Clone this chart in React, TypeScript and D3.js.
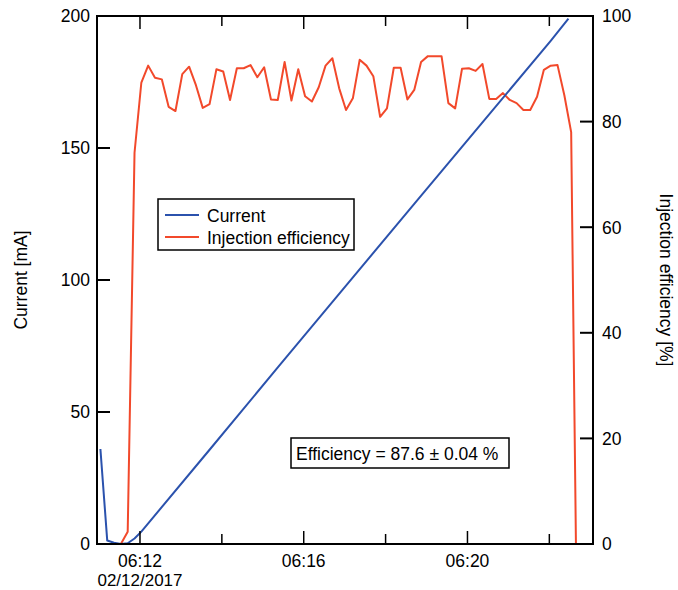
import React from "react";
import * as d3 from "d3";

// ---------- data ----------
const effTimes: string[] = [
  "06:11:32", "06:11:42", "06:11:52",
  "06:12:02", "06:12:12", "06:12:22", "06:12:32", "06:12:42", "06:12:52",
  "06:13:02", "06:13:12", "06:13:22", "06:13:32", "06:13:42", "06:13:52",
  "06:14:02", "06:14:12", "06:14:22", "06:14:32", "06:14:42", "06:14:52",
  "06:15:02", "06:15:12", "06:15:22", "06:15:32", "06:15:42", "06:15:52",
  "06:16:02", "06:16:12", "06:16:22", "06:16:32", "06:16:42", "06:16:52",
  "06:17:02", "06:17:12", "06:17:22", "06:17:32", "06:17:42", "06:17:52",
  "06:18:02", "06:18:12", "06:18:22", "06:18:32", "06:18:42", "06:18:52",
  "06:19:02", "06:19:12", "06:19:22", "06:19:32", "06:19:42", "06:19:52",
  "06:20:02", "06:20:12", "06:20:22", "06:20:32", "06:20:42", "06:20:52",
  "06:21:02", "06:21:12", "06:21:22", "06:21:32", "06:21:42", "06:21:52",
  "06:22:02", "06:22:12", "06:22:22", "06:22:32", "06:22:39",
];
const effValues: number[] = [
  0, 2.3, 74.1,
  87.4, 90.6, 88.3, 88.0, 82.8, 82.0,
  89.0, 90.4, 86.9, 82.6, 83.3, 89.9,
  89.5, 84.1, 90.1, 90.1, 90.7, 88.4,
  90.3, 84.2, 84.1, 91.3, 84.0, 89.9,
  84.8, 83.8, 86.5, 90.6, 92.0, 86.3,
  82.2, 84.4, 91.7, 90.6, 88.6, 80.9,
  82.5, 90.2, 90.2, 84.2, 86.0, 91.3,
  92.4, 92.4, 92.4, 83.5, 82.5, 90.0,
  90.1, 89.6, 90.9, 84.3, 84.3, 85.4,
  84.1, 83.5, 82.2, 82.2, 84.7, 89.8,
  90.6, 90.7, 85.0, 78.0, 0,
];

const currentTimes: string[] = [
  "06:11:02", "06:11:12", "06:11:22", "06:11:32", "06:11:42", "06:11:52",
  "06:12:02", "06:13:42", "06:15:22", "06:17:02", "06:18:42", "06:20:22",
  "06:22:02", "06:22:28",
];
const currentValues: number[] = [
  36, 1.3, 0.5, 0, 0.3, 2.1,
  4.7, 35.7, 66.9, 97.9, 128.8, 159.7,
  190.6, 199,
];

const xDomain: string[] = ["06:10:57", "06:23:04"];
const xMajorTicks: string[] = ["06:12", "06:16", "06:20"];
const xMinorTicks: string[] = ["06:14", "06:18", "06:22"];
const leftTicks: number[] = [0, 50, 100, 150, 200];
const rightTicks: number[] = [0, 20, 40, 60, 80, 100];
const dateLabel = "02/12/2017";
const legendLabels: string[] = ["Current", "Injection efficiency"];
const annotation = "Efficiency = 87.6 ± 0.04 %";
const leftTitle = "Current [mA]";
const rightTitle = "Injection efficiency [%]";

// ---------- layout ----------
const W = 678;
const H = 590;
const M = { left: 97, right: 593, top: 16, bottom: 544 };
const FONT = "'Liberation Sans', Arial, Helvetica, sans-serif";
const FS = 17.5;
const BLUE = "#2b52ad";
const RED = "#f2492b";

const parseT = d3.timeParse("%H:%M:%S");
const parseHM = d3.timeParse("%H:%M");
const fmtHM = d3.timeFormat("%H:%M");

export default function App() {
  const x = d3
    .scaleTime()
    .domain(xDomain.map((s) => parseT(s) as Date))
    .range([M.left, M.right]);
  const yL = d3.scaleLinear().domain([0, 200]).range([M.bottom, M.top]);
  const yR = d3.scaleLinear().domain([0, 100]).range([M.bottom, M.top]);

  const curData = currentTimes.map((t, i) => ({ t: parseT(t) as Date, v: currentValues[i] }));
  const effData = effTimes.map((t, i) => ({ t: parseT(t) as Date, v: effValues[i] }));

  const curLine = d3
    .line<{ t: Date; v: number }>()
    .x((d) => x(d.t))
    .y((d) => yL(d.v));
  const effLine = d3
    .line<{ t: Date; v: number }>()
    .x((d) => x(d.t))
    .y((d) => yR(d.v));

  const majors = xMajorTicks.map((s) => parseHM(s) as Date);
  const minors = xMinorTicks.map((s) => parseHM(s) as Date);

  const legX = 158, legY = 199, legW = 196, legH = 51;
  const annX = 291, annY = 438, annW = 218, annH = 30;

  return (
    <svg
      width={W}
      height={H}
      style={{ position: "absolute", left: 0, top: 0, background: "#fff" }}
      fontFamily={FONT}
    >
      <rect x={0} y={0} width={W} height={H} fill="#fff" />

      <defs>
        <clipPath id="plotclip">
          <rect x={M.left} y={M.top - 1} width={M.right - M.left} height={M.bottom - M.top + 2} />
        </clipPath>
      </defs>
      <g clipPath="url(#plotclip)">
        <path d={effLine(effData) || ""} fill="none" stroke={RED} strokeWidth={2} strokeLinejoin="round" />
        <path d={curLine(curData) || ""} fill="none" stroke={BLUE} strokeWidth={2} strokeLinejoin="round" />
      </g>

      {/* frame */}
      <rect
        x={M.left}
        y={M.top}
        width={M.right - M.left}
        height={M.bottom - M.top}
        fill="none"
        stroke="#000"
        strokeWidth={2}
      />

      {/* x ticks (bottom and top, inward) */}
      {majors.map((d, i) => (
        <g key={"xM" + i}>
          <line x1={x(d)} x2={x(d)} y1={M.bottom} y2={M.bottom - 13} stroke="#000" strokeWidth={1.5} />
          <line x1={x(d)} x2={x(d)} y1={M.top} y2={M.top + 13} stroke="#000" strokeWidth={1.5} />
          <text x={x(d)} y={567} textAnchor="middle" fontSize={FS} fill="#000">
            {fmtHM(d)}
          </text>
        </g>
      ))}
      {minors.map((d, i) => (
        <g key={"xm" + i}>
          <line x1={x(d)} x2={x(d)} y1={M.bottom} y2={M.bottom - 10} stroke="#000" strokeWidth={1.5} />
          <line x1={x(d)} x2={x(d)} y1={M.top} y2={M.top + 10} stroke="#000" strokeWidth={1.5} />
        </g>
      ))}
      <text x={x(majors[0])} y={586.3} textAnchor="middle" fontSize={17} fill="#000">
        {dateLabel}
      </text>

      {/* left axis ticks */}
      {leftTicks.map((v) => (
        <g key={"l" + v}>
          <line x1={M.left} x2={M.left + 13} y1={yL(v)} y2={yL(v)} stroke="#000" strokeWidth={2} />
          <text x={90} y={yL(v)} dy="0.36em" textAnchor="end" fontSize={FS} fill="#000">
            {v}
          </text>
        </g>
      ))}

      {/* right axis ticks */}
      {rightTicks.map((v) => (
        <g key={"r" + v}>
          <line x1={M.right} x2={M.right - 13} y1={yR(v)} y2={yR(v)} stroke="#000" strokeWidth={2} />
          <text x={602} y={yR(v)} dy="0.36em" textAnchor="start" fontSize={FS} fill="#000">
            {v}
          </text>
        </g>
      ))}

      {/* axis titles */}
      <text
        transform={`translate(27, ${(M.top + M.bottom) / 2}) rotate(-90)`}
        textAnchor="middle"
        fontSize={FS}
        fill="#000"
      >
        {leftTitle}
      </text>
      <text
        transform={`translate(660, ${(M.top + M.bottom) / 2}) rotate(90)`}
        textAnchor="middle"
        fontSize={FS}
        fill="#000"
      >
        {rightTitle}
      </text>

      {/* legend */}
      <rect x={legX} y={legY} width={legW} height={legH} fill="#fff" stroke="#000" strokeWidth={1.5} />
      <line x1={165} x2={199} y1={215} y2={215} stroke={BLUE} strokeWidth={2} />
      <line x1={165} x2={199} y1={237} y2={237} stroke={RED} strokeWidth={2} />
      <text x={207} y={221.5} fontSize={FS} fill="#000">
        {legendLabels[0]}
      </text>
      <text x={207} y={243.5} fontSize={FS} fill="#000">
        {legendLabels[1]}
      </text>

      {/* annotation */}
      <rect x={annX} y={annY} width={annW} height={annH} fill="#fff" stroke="#000" strokeWidth={1.5} />
      <text x={296} y={459.5} fontSize={FS} fill="#000">
        {annotation}
      </text>
    </svg>
  );
}
